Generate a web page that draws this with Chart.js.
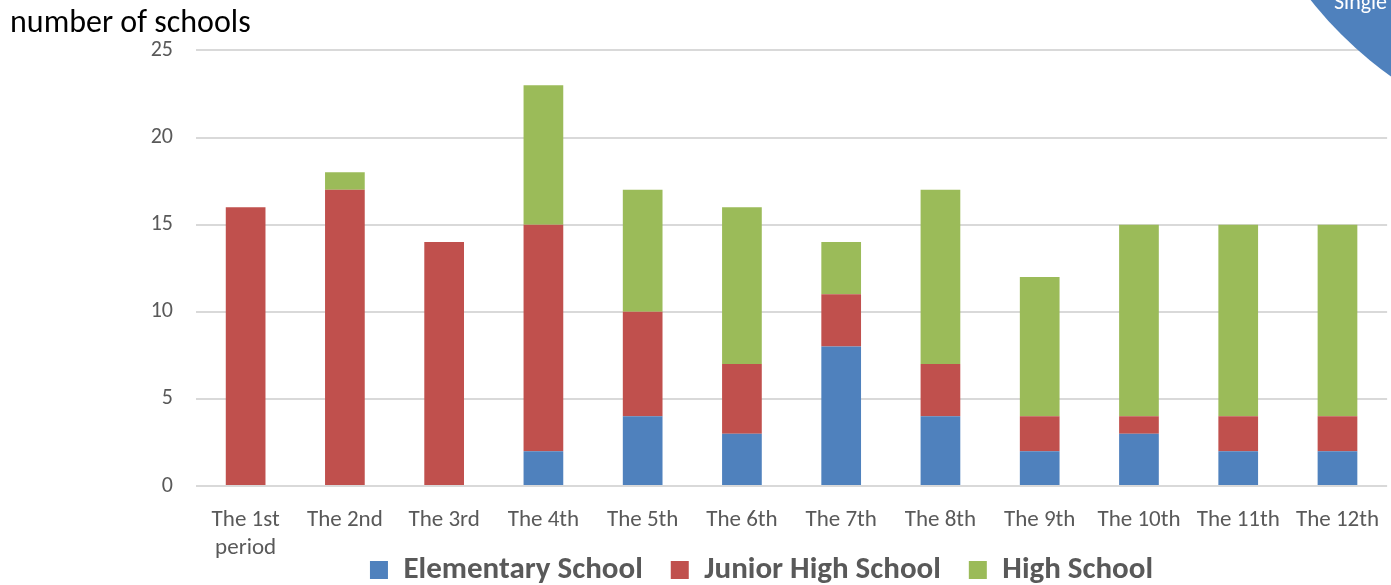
<!DOCTYPE html>
<html>
<head>
<meta charset="utf-8">
<script src="https://cdn.jsdelivr.net/npm/chart.js@4/dist/chart.umd.min.js"></script>
<style>
  html, body { margin: 0; padding: 0; background: #fff; }
  #wrap { width: 1391px; height: 585px; position: relative; }
</style>
</head>
<body>
<div id="wrap"><canvas id="tabelas"></canvas></div>
<script>
const periods = [['The 1st', 'period'], 'The 2nd', 'The 3rd', 'The 4th', 'The 5th', 'The 6th',
    'The 7th', 'The 8th', 'The 9th', 'The 10th', 'The 11th', 'The 12th']
const elementary = [0, 0, 0, 2, 4, 3, 8, 4, 2, 3, 2, 2]
const juniorHigh = [16, 17, 14, 13, 6, 4, 3, 3, 2, 1, 2, 2]
const highSchool = [0, 1, 0, 8, 7, 9, 3, 10, 8, 11, 11, 11]

const fontFam = 'Carlito, Lato, "Open Sans", sans-serif'
const legendPad = 28
const legendSize = 31

// the blue circle cut off in the top right corner
const cornerBadge = {
    id: 'cornerBadge',
    afterLayout(chart) {
        // let the two-line x labels run under the legend, and put the legend row at y=570
        chart.scales.x.bottom = chart.height
        const lg = chart.legend
        const shift = 570 - (lg.top + legendPad + legendSize / 2)
        lg.top += shift
        lg.bottom += shift
        lg.left += 122
    },
    afterDraw(chart) {
        const ctx = chart.ctx
        ctx.save()
        ctx.fillStyle = '#4F81BD'
        ctx.beginPath()
        ctx.arc(1620, -244, 394, 0, Math.PI * 2)
        ctx.fill()
        ctx.fillStyle = '#ffffff'
        ctx.font = '22px ' + fontFam
        ctx.fillText('Single', 1334, 3)
        ctx.restore()
    }
}

new Chart(document.querySelector('#tabelas'), {
    type: 'bar',
    data: {
        labels: periods,
        datasets: [{
            label: 'Elementary School',
            data: elementary,
            backgroundColor: '#4F81BD'
        },
        {
            label: 'Junior High School',
            data: juniorHigh,
            backgroundColor: '#C0504D'
        },
        {
            label: 'High School',
            data: highSchool,
            backgroundColor: '#9BBB59'
        }]
    },
    options: {
        responsive: true,
        maintainAspectRatio: false,
        animation: false,
        datasets: {
            bar: {
                barPercentage: 0.4,
                categoryPercentage: 1
            }
        },
        layout: {
            padding: { left: 10, right: 0, top: 0, bottom: 0 }
        },
        scales: {
            y: {
                stacked: true,
                min: 0,
                max: 25,
                afterFit(axis) { axis.width = 186 },
                border: { display: false },
                grid: {
                    color: '#d9d9d9',
                    lineWidth: 2,
                    drawTicks: false
                },
                ticks: {
                    stepSize: 5,
                    padding: 23,
                    color: '#595959',
                    font: { size: 22, family: fontFam }
                }
            },
            x: {
                stacked: true,
                afterFit(axis) { axis.height = 100 - (legendPad + legendSize + 11) },
                border: { display: false },
                grid: { display: false },
                ticks: {
                    maxRotation: 0,
                    autoSkip: false,
                    padding: 12,
                    color: '#595959',
                    font: { size: 23, family: fontFam, lineHeight: 1.22 }
                }
            }
        },
        plugins: {
            title: {
                display: true,
                text: 'number of schools',
                align: 'start',
                color: '#000000',
                font: { size: 32, family: fontFam, weight: 'normal', lineHeight: 1.2 },
                padding: { top: 5, bottom: 7 }
            },
            legend: {
                position: 'bottom',
                labels: {
                    boxWidth: 18,
                    boxHeight: 18,
                    padding: legendPad,
                    color: '#595959',
                    font: { size: legendSize, weight: 'bold', family: fontFam }
                }
            },
            tooltip: { enabled: false }
        }
    },
    plugins: [cornerBadge]
})
</script>
</body>
</html>
